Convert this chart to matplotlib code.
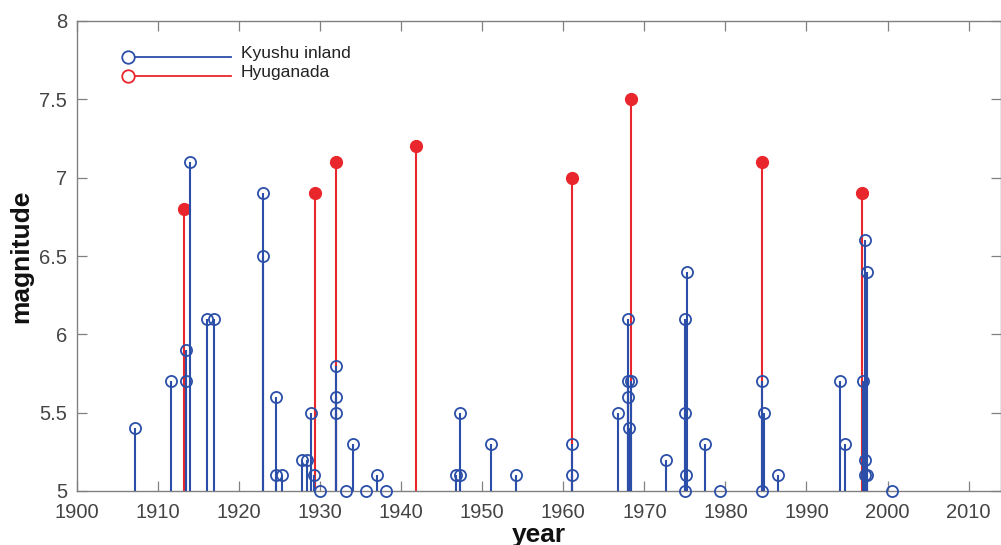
import matplotlib
matplotlib.use("Agg")
import matplotlib.pyplot as plt

# Kyushu inland events (year, magnitude)
kyushu_years = [1907.1, 1911.6, 1913.4, 1913.4, 1914.0, 1916.1, 1916.9, 1922.9, 1922.9,
                1924.6, 1924.6, 1925.3, 1927.7, 1928.4, 1928.9, 1929.2, 1930.0,
                1932.0, 1932.0, 1932.0, 1933.2, 1934.0, 1935.7, 1937.0, 1938.1,
                1946.8, 1947.3, 1947.3, 1951.1, 1954.2, 1961.1, 1961.1, 1966.8,
                1968.0, 1968.0, 1968.4, 1968.0, 1968.1, 1972.7,
                1975.3, 1975.0, 1975.0, 1975.1, 1975.0, 1977.5, 1979.3,
                1984.5, 1984.7, 1984.5, 1986.5, 1994.1, 1994.8,
                1997.2, 1997.0, 1997.2, 1997.2, 1997.5, 1997.5, 2000.5]
kyushu_mags = [5.4, 5.7, 5.9, 5.7, 7.1, 6.1, 6.1, 6.9, 6.5,
               5.6, 5.1, 5.1, 5.2, 5.2, 5.5, 5.1, 5.0,
               5.8, 5.6, 5.5, 5.0, 5.3, 5.0, 5.1, 5.0,
               5.1, 5.5, 5.1, 5.3, 5.1, 5.3, 5.1, 5.5,
               6.1, 5.7, 5.7, 5.6, 5.4, 5.2,
               6.4, 6.1, 5.5, 5.1, 5.0, 5.3, 5.0,
               5.7, 5.5, 5.0, 5.1, 5.7, 5.3,
               6.6, 5.7, 5.2, 5.1, 6.4, 5.1, 5.0]

# Hyuganada events
hyuga_years = [1913.2, 1929.4, 1931.9, 1941.8, 1961.1, 1968.3, 1984.5, 1996.8]
hyuga_mags = [6.8, 6.9, 7.1, 7.2, 7.0, 7.5, 7.1, 6.9]

xticks = list(range(1900, 2011, 10))
yticks = [5, 5.5, 6, 6.5, 7, 7.5, 8]
ytick_labels = ["5", "5.5", "6", "6.5", "7", "7.5", "8"]

BLUE = "#2b4fa8"
RED = "#e8262c"
GRAY = "#808080"
FAM = ["Liberation Sans", "DejaVu Sans"]

fig = plt.figure(figsize=(10.01, 5.45), dpi=100)
ax = fig.add_axes([77/1001, 1-491/545, 924/1001, 470/545])

# Hyuganada stems (filled red)
m, s, b = ax.stem(hyuga_years, hyuga_mags, bottom=5, basefmt=" ")
s.set_color(RED); s.set_linewidth(1.5); s.set_zorder(2)
m.set_color(RED); m.set_marker("o"); m.set_markersize(8.5)
m.set_markerfacecolor(RED); m.set_markeredgecolor(RED); m.set_zorder(2)
m.set_clip_on(False)

# Kyushu inland stems (open blue)
m2, s2, b2 = ax.stem(kyushu_years, kyushu_mags, bottom=5, basefmt=" ")
s2.set_color(BLUE); s2.set_linewidth(1.5); s2.set_zorder(3)
m2.set_marker("o"); m2.set_markersize(8); m2.set_markerfacecolor("none")
m2.set_markeredgecolor(BLUE); m2.set_markeredgewidth(1.3); m2.set_zorder(4)
m2.set_clip_on(False)

ax.set_xlim(1900, 2014)
ax.set_ylim(5, 8)
ax.set_xticks(xticks)
ax.set_yticks(yticks)
ax.set_yticklabels(ytick_labels)

for sp in ax.spines.values():
    sp.set_color(GRAY)
    sp.set_linewidth(1.0)
ax.tick_params(direction="in", top=True, right=True, length=7, width=0.9,
               color=GRAY, labelcolor="#444444", labelsize=14.5)
ax.tick_params(axis="x", pad=9)
ax.tick_params(axis="y", pad=7)
for lab in ax.get_xticklabels() + ax.get_yticklabels():
    lab.set_family(FAM)

ax.set_xlabel("year", fontsize=19, fontweight="bold", family=FAM, color="#111111")
ax.set_ylabel("magnitude", fontsize=19, fontweight="bold", family=FAM, color="#111111")
ax.xaxis.set_label_coords(0.5, -0.068)
ax.yaxis.set_label_coords(-0.047, 0.5)

# manual legend (marker at left end of line, MATLAB style)
tr = ax.transAxes
leg = [("Kyushu inland", BLUE, 0.9228, 0.931), ("Hyuganada", RED, 0.8823, 0.890)]
for name, col, yl, yt in leg:
    ax.plot([0.0552, 0.1667], [yl, yl], color=col, lw=1.3, transform=tr, zorder=5)
    ax.plot([0.0552], [yl], marker="o", ms=9, mfc="white", mec=col, mew=1.3,
            transform=tr, zorder=6)
    ax.text(0.1775, yt, name, transform=tr, fontsize=12.5, va="center", ha="left",
            family=FAM, color="#222222")

fig.savefig("out.png", dpi=100)
